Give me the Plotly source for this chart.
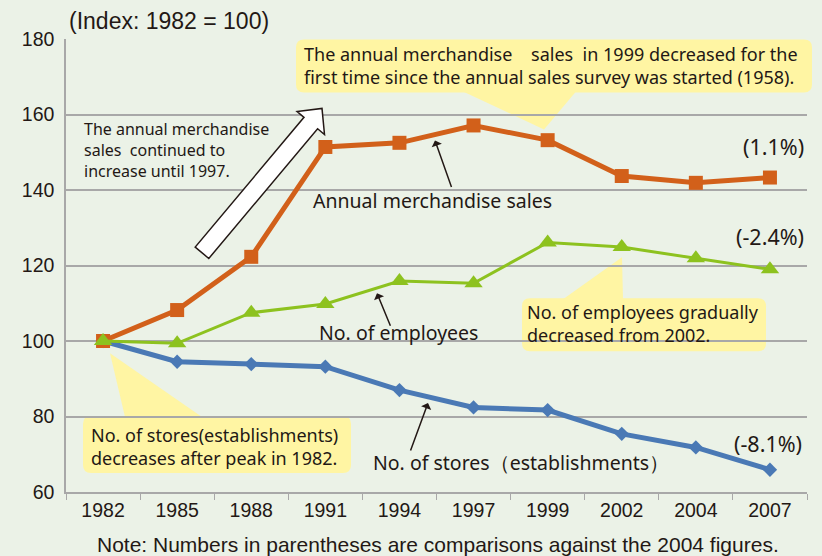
import plotly.graph_objects as go

years = ['1982', '1985', '1988', '1991', '1994', '1997', '1999', '2002', '2004', '2007']
sales = [100, 108.2, 122.3, 151.4, 152.5, 157.1, 153.2, 143.7, 141.9, 143.3]
employees = [100, 99.4, 107.5, 109.8, 115.9, 115.3, 126.1, 124.9, 121.9, 119.0]
stores = [100, 94.5, 93.9, 93.2, 87.0, 82.4, 81.7, 75.4, 71.8, 65.9]

W, H = 822, 556
L, R, T, B = 66, 807, 38.5, 492

# pixel -> paper helpers for the callouts
def px(x):
    return (x - L) / (R - L)

def py(y):
    return (B - y) / (B - T)

def rrect(x0, y0, x1, y1, r=8):
    rx, ry = r / (R - L), r / (B - T)
    a, b, c, d = px(x0), py(y0), px(x1), py(y1)
    return (f"M{a+rx},{b} L{c-rx},{b} Q{c},{b} {c},{b-ry} L{c},{d+ry} Q{c},{d} {c-rx},{d} "
            f"L{a+rx},{d} Q{a},{d} {a},{d+ry} L{a},{b-ry} Q{a},{b} {a+rx},{b} Z")

def poly(pts):
    return "M" + " L".join(f"{px(x)},{py(y)}" for x, y in pts) + " Z"

yellow = '#FFF5A3'
dark = '#231815'

fig = go.Figure()
# stores first, employees last so the green triangle sits on top at 1982
fig.add_trace(go.Scatter(x=years, y=stores, mode='lines+markers',
                         line=dict(color='#4A79B5', width=5),
                         marker=dict(symbol='diamond', size=11, color='#4A79B5')))
fig.add_trace(go.Scatter(x=years, y=sales, mode='lines+markers',
                         line=dict(color='#D2601A', width=5),
                         marker=dict(symbol='square', size=14, color='#D2601A')))
fig.add_trace(go.Scatter(x=years, y=employees, mode='lines+markers',
                         line=dict(color='#8DC21F', width=3),
                         marker=dict(symbol='triangle-up', size=16, color='#8DC21F')))

shapes = [
    # top callout
    dict(type='path', path=rrect(296, 39, 812, 92), fillcolor=yellow, line_width=0, layer='below'),
    dict(type='path', path=poly([(463, 91), (544, 129), (576, 91)]), fillcolor=yellow, line_width=0, layer='below'),
    # stores callout
    dict(type='path', path=rrect(83, 416, 351, 473), fillcolor=yellow, line_width=0, layer='below'),
    dict(type='path', path=poly([(110, 353), (125, 417), (202, 417)]), fillcolor=yellow, line_width=0, layer='below'),
    # employees callout
    dict(type='path', path=rrect(522, 298, 766, 351), fillcolor=yellow, line_width=0, layer='below'),
    dict(type='path', path=poly([(622, 257), (563, 299), (623, 299)]), fillcolor=yellow, line_width=0, layer='below'),
    # big hollow arrow
    dict(type='path', path=poly([(195.2, 246.8), (208.8, 258.2), (317.6, 128.3), (324.5, 134.1),
                                 (322, 108), (297.1, 111.1), (304, 116.9)]),
         fillcolor='white', line=dict(color=dark, width=1.5)),
]
for s in shapes:
    s['xref'] = 'paper'
    s['yref'] = 'paper'

txt = dict(family='Noto Sans', color=dark)
ann = [
    dict(x=px(67), y=py(20), text='(Index: 1982 = 100)', xanchor='left', yanchor='middle',
         font=dict(family='Liberation Sans', size=23, color=dark)),
    dict(x=px(302), y=py(65), text='The annual merchandise    sales  in 1999 decreased for the<br>'
         'first time since the annual sales survey was started (1958).',
         xanchor='left', yanchor='middle', align='left', font=dict(size=18, **txt)),
    dict(x=px(82), y=py(150), text='The annual merchandise<br>sales  continued to<br>increase until 1997.',
         xanchor='left', yanchor='middle', align='left', font=dict(size=16, **txt)),
    dict(x=px(311), y=py(200), text='Annual merchandise sales', xanchor='left', yanchor='middle',
         font=dict(size=19.5, **txt)),
    dict(x=px(806), y=py(146), text='(1.1%)', xanchor='right', yanchor='middle', font=dict(size=21.5, **txt)),
    dict(x=px(806), y=py(236), text='(-2.4%)', xanchor='right', yanchor='middle', font=dict(size=21.5, **txt)),
    dict(x=px(804), y=py(443), text='(-8.1%)', xanchor='right', yanchor='middle', font=dict(size=21.5, **txt)),
    dict(x=px(317), y=py(332), text='No. of employees', xanchor='left', yanchor='middle',
         font=dict(size=19.5, **txt)),
    dict(x=px(525), y=py(323), text='No. of employees gradually<br>decreased from 2002.',
         xanchor='left', yanchor='middle', align='left', font=dict(size=18, **txt)),
    dict(x=px(89), y=py(446), text='No. of stores(establishments)<br>decreases after peak in 1982.',
         xanchor='left', yanchor='middle', align='left', font=dict(size=18, **txt)),
    dict(x=px(371), y=py(462), text='No. of stores（establishments）', xanchor='left', yanchor='middle',
         font=dict(size=19.5, **txt)),
    dict(x=px(438), y=py(545), text='Note: Numbers in parentheses are comparisons against the 2004 figures.',
         xanchor='center', yanchor='middle', font=dict(family='Liberation Sans', size=21, color=dark)),
]
# pointer arrows (tip at x,y, tail offset ax/ay in pixels)
for tip, tail in [((435, 140), (452, 188)), ((377, 293), (391, 327)), ((428, 403), (410, 452))]:
    ann.append(dict(x=px(tip[0]), y=py(tip[1]), ax=tail[0] - tip[0], ay=tail[1] - tip[1],
                    text='', showarrow=True, arrowhead=1, arrowsize=1.2, arrowwidth=1.5, arrowcolor=dark))
for a in ann:
    a['xref'] = 'paper'
    a['yref'] = 'paper'
    a.setdefault('showarrow', False)

bg = '#EBF2E7'
fig.update_layout(
    width=W, height=H, showlegend=False,
    margin=dict(l=L, r=W - R, t=T, b=H - B),
    paper_bgcolor=bg, plot_bgcolor=bg,
    shapes=shapes, annotations=ann,
    font=dict(family='Liberation Sans', size=17, color=dark),
)
fig.update_xaxes(type='category', range=[-0.5, 9.5], showgrid=False, showline=True,
                 linecolor='#A8A8A8', linewidth=1.5, ticks='outside', tickson='boundaries',
                 ticklen=6, tickcolor='#A8A8A8', tickfont=dict(size=19.5))
fig.update_yaxes(range=[60, 180], dtick=20, showgrid=True, gridcolor='#A8A8A8', gridwidth=1.5,
                 showline=True, linecolor='#A8A8A8', linewidth=1.5, zeroline=False,
                 ticks='', ticklabelstandoff=6, tickfont=dict(size=19.5))

fig.write_html("out.html", config={'displayModeBar': False},
               post_script="document.body.style.margin='0';")
